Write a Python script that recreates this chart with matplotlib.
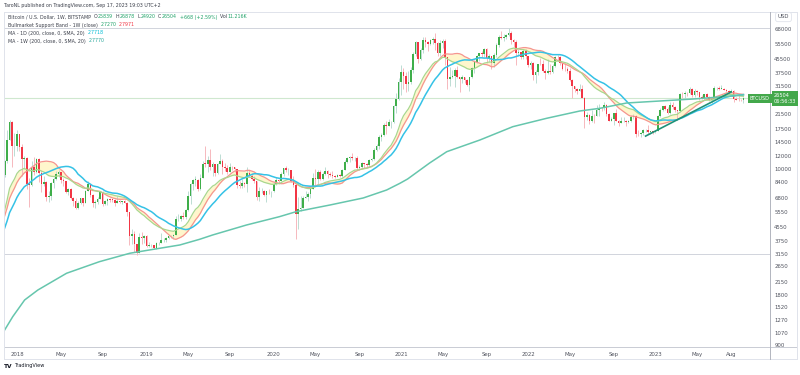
import numpy as np
import pandas as pd
import matplotlib.pyplot as plt
import matplotlib.dates as mdates
import matplotlib.transforms as mtransforms
from matplotlib.lines import Line2D

# weekly BTC/USD (Bitstamp), values in USD thousands, weeks start on Monday
# closes before the visible range, only used to warm up the moving averages (from 2017-05-01)
warmup_close = [1.57, 1.77, 2.05, 2.20, 2.52, 2.96, 2.56, 2.48, 2.52, 2.51, 1.93, 2.75, 2.75, 3.23,
                4.07, 4.09, 4.35, 4.59, 4.22, 3.69, 3.66, 4.39, 4.60, 5.70, 6.00, 6.15, 7.40, 5.88, 8.05, 9.30]

first_week = '2017-11-27'
close_2017 = [11.25, 15.0, 19.1, 13.8, 13.85]
high_2017 = [11.4, 17.2, 19.67, 19.3, 16.5]
low_2017 = [9.0, 11.0, 15.0, 10.4, 12.0]

close_2018 = [16.2, 13.6, 11.55, 11.75, 8.2, 8.1, 10.4, 9.6, 11.5, 9.55, 8.2, 8.45, 6.85, 7.0, 8.35, 8.8,
              9.4, 9.65, 8.7, 8.5, 7.35, 7.7, 6.77, 6.5, 5.9, 6.35, 6.75, 6.35, 7.4, 8.2, 7.03, 6.3, 6.4,
              6.7, 7.3, 6.2, 6.5, 6.7, 6.63, 6.6, 6.3, 6.5, 6.4, 6.48, 6.35, 5.6, 4.0, 4.15, 3.6, 3.2,
              3.95, 3.9, 4.05]
high_2018 = [17.2, 16.3, 14.1, 12.0, 11.9, 8.9, 11.2, 11.8, 11.7, 11.7, 9.9, 9.2, 8.5, 7.5, 8.4, 9.0,
             9.75, 9.95, 9.7, 8.88, 8.55, 7.8, 7.76, 6.9, 6.8, 6.5, 6.8, 6.8, 7.6, 8.5, 8.25, 7.15, 6.6,
             6.85, 7.4, 7.42, 6.6, 6.8, 6.75, 6.7, 6.7, 7.0, 6.55, 6.5, 6.6, 6.4, 5.6, 4.4, 4.3, 3.6,
             4.2, 4.25, 4.1]
low_2018 = [12.8, 12.8, 9.2, 10.0, 7.7, 6.0, 8.0, 9.3, 9.5, 8.4, 7.3, 8.0, 6.5, 6.45, 6.6, 7.8,
            8.7, 8.97, 8.35, 7.95, 7.2, 7.05, 6.65, 6.1, 5.8, 5.8, 6.2, 6.1, 6.3, 7.4, 6.9, 5.95, 5.88,
            6.25, 6.65, 6.1, 6.15, 6.15, 6.4, 6.45, 6.1, 6.3, 6.35, 6.25, 6.3, 5.3, 3.55, 3.6, 3.25, 3.12,
            3.2, 3.6, 3.65]

close_2019 = [3.5, 3.55, 3.55, 3.42, 3.65, 3.65, 3.8, 3.8, 3.93, 4.0, 4.0, 4.1, 5.05, 5.1, 5.3, 5.2,
              5.75, 6.95, 8.2, 8.7, 8.7, 7.65, 8.95, 10.85, 10.8, 11.45, 10.3, 10.75, 9.5, 10.8, 11.3,
              10.3, 10.15, 9.6, 10.4, 10.35, 10.0, 8.05, 7.95, 8.3, 8.2, 9.55, 9.2, 8.8, 8.5, 6.9, 7.4,
              7.5, 7.1, 7.5, 7.4, 7.5]
high_2019 = [4.1, 3.7, 3.62, 3.56, 3.7, 3.7, 4.2, 3.9, 3.95, 4.02, 4.08, 4.15, 5.3, 5.47, 5.35, 5.62,
             5.8, 7.4, 8.35, 8.75, 9.1, 8.8, 9.35, 11.25, 13.85, 12.0, 13.2, 11.1, 10.65, 11.0, 12.3,
             11.5, 10.95, 10.6, 10.9, 10.5, 10.3, 10.05, 8.5, 8.75, 8.45, 10.4, 9.9, 9.5, 9.1, 8.5, 7.85,
             7.75, 7.6, 7.5, 7.7, 7.5]
low_2019 = [3.45, 3.45, 3.45, 3.37, 3.35, 3.56, 3.65, 3.7, 3.7, 3.85, 3.92, 3.9, 4.1, 4.95, 4.95, 5.05,
            5.1, 5.65, 6.2, 7.55, 8.0, 7.45, 7.55, 8.95, 10.3, 9.65, 9.9, 9.1, 9.1, 9.4, 10.9,
            9.4, 9.75, 9.35, 9.6, 9.9, 9.6, 7.75, 7.75, 7.8, 7.9, 7.3, 9.0, 8.7, 8.3, 6.55, 6.5,
            7.2, 7.0, 6.45, 7.15, 6.85]

close_2020 = [8.18, 8.7, 8.6, 9.35, 10.15, 9.9, 9.95, 8.55, 8.05, 5.4, 5.85, 5.9, 6.8, 6.9, 7.15, 7.7,
              8.9, 8.75, 9.7, 8.75, 9.45, 9.75, 9.35, 9.3, 9.1, 9.08, 9.3, 9.2, 9.95, 11.1, 11.7, 11.9,
              11.65, 11.7, 10.25, 10.35, 10.9, 10.75, 10.65, 11.4, 11.5, 13.05, 13.75, 15.5, 15.95, 18.4,
              18.2, 19.15, 19.15, 23.9, 26.3, 33.0]
high_2020 = [8.45, 9.0, 8.75, 9.6, 10.2, 10.5, 10.25, 9.95, 9.2, 8.15, 6.9, 6.95, 7.0, 7.45, 7.3, 7.75,
             9.48, 10.0, 9.95, 9.9, 9.6, 10.4, 9.99, 9.6, 9.8, 9.3, 9.45, 9.35, 10.0, 11.4, 11.8, 12.1,
             12.45, 11.8, 12.05, 10.6, 11.1, 10.95, 10.95, 11.6, 11.7, 13.35, 14.1, 15.95, 16.5, 18.8,
             19.4, 19.9, 19.4, 24.2, 28.4, 34.8]
low_2020 = [7.35, 8.05, 8.25, 8.55, 9.15, 9.65, 9.3, 8.4, 7.85, 3.85, 4.45, 5.7, 5.87, 6.75, 6.5, 6.8,
            7.65, 8.1, 8.2, 8.65, 8.63, 9.3, 8.9, 9.2, 8.85, 8.95, 9.05, 9.05, 9.05, 9.9, 10.95, 11.1,
            11.4, 11.2, 9.9, 9.9, 10.2, 10.15, 10.4, 10.5, 11.2, 11.4, 12.9, 13.3, 14.8, 15.8,
            16.3, 18.2, 17.6, 19.0, 21.8, 25.9]

close_2021 = [38.2, 35.8, 32.3, 33.1, 38.9, 48.6, 57.4, 45.2, 51.2, 59.0, 57.4, 55.8, 58.8, 60.0, 56.2,
              49.0, 56.6, 58.2, 46.4, 34.7, 35.7, 35.8, 39.1, 35.5, 34.7, 35.3, 34.25, 31.8, 35.4, 39.9,
              43.8, 47.1, 49.3, 48.9, 51.8, 46.0, 47.3, 43.2, 48.2, 54.7, 61.5, 60.9, 61.3, 63.3, 65.0,
              58.6, 57.3, 49.4, 50.1, 46.7, 50.8, 47.3]
high_2021 = [42.0, 40.0, 37.8, 38.5, 40.9, 49.7, 58.3, 57.5, 52.6, 61.7, 61.0, 58.4, 60.1, 61.0, 64.9,
             57.5, 58.5, 59.6, 59.5, 46.5, 40.9, 39.3, 40.0, 41.3, 35.7, 36.6, 35.0, 34.6, 35.5, 40.9,
             44.7, 48.1, 49.4, 50.5, 52.9, 52.9, 48.8, 47.4, 49.2, 56.5, 62.9, 67.0, 63.7, 64.3, 69.0,
             66.3, 59.3, 59.1, 51.9, 50.0, 51.9, 52.1]
low_2021 = [27.8, 30.3, 28.8, 29.3, 32.3, 37.3, 47.0, 43.0, 44.9, 49.3, 53.3, 50.4, 54.8, 55.5, 51.5,
            47.0, 47.5, 53.0, 42.1, 30.0, 31.2, 34.8, 31.0, 34.8, 28.8, 32.7, 32.7, 31.2, 29.3, 35.2,
            37.4, 42.8, 43.9, 46.5, 46.8, 42.9, 43.4, 39.6, 40.8, 46.9, 53.8, 59.8, 57.9, 59.4, 62.3,
            55.6, 53.3, 42.0, 47.1, 45.5, 45.6, 45.7]

close_2022 = [41.9, 43.1, 36.3, 37.9, 42.4, 42.2, 38.4, 37.7, 38.4, 37.8, 41.3, 46.8, 46.4, 42.8, 39.7,
              39.45, 38.5, 34.1, 31.3, 30.3, 29.45, 29.9, 26.6, 20.55, 21.05, 19.3, 20.85, 20.8, 22.6,
              23.3, 23.2, 24.3, 21.5, 19.55, 19.95, 21.8, 19.4, 18.8, 19.3, 19.45, 19.05, 19.55, 20.65,
              20.9, 16.3, 16.25, 16.45, 17.1, 17.1, 16.75, 16.85, 16.6]
high_2022 = [47.6, 44.4, 43.5, 38.9, 42.6, 45.8, 44.7, 39.5, 45.4, 42.5, 42.4, 47.0, 48.2, 47.5, 42.4,
             42.9, 40.8, 40.0, 34.3, 31.4, 30.6, 32.2, 31.7, 26.9, 21.9, 21.5, 22.5, 21.5, 24.2,
             24.6, 23.6, 25.2, 24.5, 21.8, 20.6, 21.8, 22.8, 19.7, 20.4, 20.5, 19.7, 19.7, 21.0,
             21.5, 21.0, 17.2, 16.8, 17.4, 17.4, 18.4, 16.95, 16.95]
low_2022 = [40.6, 39.7, 34.0, 32.9, 36.3, 41.7, 38.0, 34.3, 37.2, 37.2, 37.6, 40.5, 44.2, 42.0, 39.2,
            38.6, 37.7, 33.7, 26.7, 28.7, 28.0, 29.3, 26.6, 17.6, 19.7, 18.7, 19.1, 18.9, 20.8,
            20.7, 22.4, 22.7, 20.8, 19.5, 19.55, 18.5, 19.3, 18.1, 18.8, 19.1, 18.2, 18.9, 19.2,
            20.0, 15.6, 15.8, 15.5, 16.0, 16.7, 16.3, 16.3, 16.35]

close_2023 = [16.95, 20.9, 22.7, 23.75, 22.95, 21.8, 24.3, 23.55, 22.45, 22.15, 28.0, 27.95, 28.45,
              28.35, 30.3, 27.6, 29.25, 28.9, 26.9, 26.75, 28.05, 27.1, 25.85, 26.35, 30.5, 30.6, 30.15,
              30.25, 29.8, 29.3, 29.05, 29.3, 26.1, 26.0, 25.85, 25.839, 26.504]
high_2023 = [17.2, 21.2, 23.3, 23.8, 24.3, 23.4, 25.2, 25.1, 23.9, 22.6, 28.4, 29.0, 29.1,
             28.8, 31.0, 30.5, 30.0, 29.8, 29.0, 27.6, 28.3, 28.4, 27.4, 26.8, 31.4, 31.0, 31.4,
             31.8, 30.4, 29.9, 29.8, 30.2, 29.7, 26.8, 28.1, 26.1, 26.878]
low_2023 = [16.5, 17.1, 20.4, 22.3, 22.6, 21.4, 21.4, 22.8, 21.95, 19.6, 21.9, 26.6, 26.5,
            27.2, 28.2, 27.1, 26.95, 27.7, 25.8, 26.4, 25.9, 26.6, 25.4, 24.8, 26.3, 29.5, 29.7,
            29.95, 29.6, 28.9, 28.6, 28.7, 25.2, 25.8, 25.4, 25.4, 24.92]

# 200-week moving average (USD)
ma200w_dates = ['2017-11-24', '2017-12-20', '2018-01-23', '2018-03-02', '2018-05-23', '2018-08-25',
                '2018-11-20', '2019-01-15', '2019-04-12', '2019-06-08', '2019-07-15', '2019-10-20',
                '2020-01-22', '2020-03-10', '2020-06-15', '2020-09-18', '2020-11-24', '2021-01-01',
                '2021-01-23', '2021-03-27', '2021-05-15', '2021-08-18', '2021-11-20', '2022-02-25',
                '2022-05-31', '2022-07-27', '2022-10-12', '2023-04-20', '2023-08-12', '2023-09-11']
ma200w_values = [1086, 1333, 1675, 1921, 2415, 2830, 3176, 3322, 3557, 3846, 4079, 4677, 5240, 5613,
                 6151, 6770, 7553, 8278, 8780, 10930, 12760, 14980, 17970, 20160, 22280, 23110, 24860,
                 26250, 27350, 27770]

# user drawings
trend_dates = ['2022-12-05', '2023-08-07']
trend_prices = [15800, 28900]
level_prices = [69000, 3150]

price_ticks = [68000, 55500, 45500, 37500, 31500, 21500, 17500, 14500, 12000, 10000, 8400, 6800, 5550,
               4550, 3750, 3150, 2650, 2150, 1800, 1520, 1270, 1070, 900]
time_tick_dates = ['2018-01-01', '2018-05-07', '2018-09-03', '2019-01-07', '2019-05-06', '2019-09-02',
                   '2020-01-06', '2020-05-04', '2020-09-07', '2021-01-04', '2021-05-03', '2021-09-06',
                   '2022-01-03', '2022-05-02', '2022-09-05', '2023-01-02', '2023-05-01', '2023-08-07']
time_tick_labels = ['2018', 'May', 'Sep', '2019', 'May', 'Sep', '2020', 'May', 'Sep', '2021', 'May', 'Sep',
                    '2022', 'May', 'Sep', '2023', 'May', 'Aug']

# ---- assemble series
close = np.array(close_2017 + close_2018 + close_2019 + close_2020 + close_2021 + close_2022 + close_2023) * 1000
high = np.array(high_2017 + high_2018 + high_2019 + high_2020 + high_2021 + high_2022 + high_2023) * 1000
low = np.array(low_2017 + low_2018 + low_2019 + low_2020 + low_2021 + low_2022 + low_2023) * 1000
n = len(close)
openp = np.concatenate([[warmup_close[-1] * 1000], close[:-1]])
high = np.maximum(high, np.maximum(openp, close))
low = np.minimum(low, np.minimum(openp, close))

dates = pd.date_range(first_week, periods=n, freq='7D')
all_dates = pd.date_range(end=dates[-1], periods=n + len(warmup_close), freq='7D')
all_close = pd.Series(np.concatenate([np.array(warmup_close) * 1000, close]), index=all_dates)
sma20 = all_close.rolling(20).mean()
ema21 = all_close.ewm(span=21, adjust=False).mean()
ma200d = all_close.rolling(28).mean()

W, H = 800, 375
def fx(x):
    return x / W
def fy(y):
    return 1 - y / H

fig = plt.figure(figsize=(8, 3.75), dpi=100)
fig.patch.set_facecolor('white')
ax = fig.add_axes([fx(4), fy(347), 766 / W, 335 / H])
ax.set_yscale('log')

up_col, down_col = '#3fae4a', '#f23645'
up_wick, down_wick = '#bcdcd3', '#f6b8bd'
x = mdates.date2num(dates)
rising = close >= openp
ax.vlines(x, low, high, colors=np.where(rising, up_wick, down_wick), lw=0.7, zorder=2)
body = np.maximum(np.abs(close - openp), close * 0.006)
ax.bar(x, body, bottom=np.minimum(openp, close), width=4.6,
       color=np.where(rising, up_col, down_col), lw=0, zorder=3)

xa = mdates.date2num(all_dates)
ax.fill_between(xa, sma20, ema21, color='#fff5c4', alpha=0.85, lw=0, zorder=1)
ax.plot(xa, sma20, color='#f5958f', lw=0.9, zorder=4)
ax.plot(xa, ema21, color='#a9d78e', lw=0.9, zorder=4)
ax.plot(xa, ma200d, color='#35c2e6', lw=1.1, zorder=4)
ax.plot(mdates.date2num(pd.to_datetime(ma200w_dates)), ma200w_values, color='#66c6ad', lw=1.1, zorder=4)

ax.plot(mdates.date2num(pd.to_datetime(trend_dates)), trend_prices, color='#1f9178', lw=1.2, zorder=5)
for lv in level_prices:
    ax.axhline(lv, color='#d1d4dc', lw=0.7, zorder=0)
ax.axhline(close[-1], color='#cfe8cf', lw=0.8, zorder=0)

ax.set_ylim(880, 86400)
ax.set_xlim(mdates.datestr2num('2017-11-25'), mdates.datestr2num('2023-11-26'))

ax.yaxis.tick_right()
ax.yaxis.set_minor_locator(plt.NullLocator())
ax.set_yticks(price_ticks)
ax.set_yticklabels([str(p) for p in price_ticks])
ax.set_xticks(mdates.date2num(pd.to_datetime(time_tick_dates)))
ax.set_xticklabels(time_tick_labels)
ax.tick_params(axis='y', length=0, pad=3, labelsize=3.9, labelcolor='#50535e')
ax.tick_params(axis='x', length=0, pad=3.5, labelsize=3.9, labelcolor='#50535e')
for s in ax.spines.values():
    s.set_visible(False)

# frame of the chart panel
frame = '#e0e3eb'
for (x1, y1, x2, y2, c) in [(4, 12, 797, 12, frame), (4, 347, 797, 347, '#c9ccd4'), (4, 359, 797, 359, frame),
                            (4, 12, 4, 359, frame), (797, 12, 797, 359, frame), (770, 12, 770, 359, '#b2b5be')]:
    fig.add_artist(Line2D([fx(x1), fx(x2)], [fy(y1), fy(y2)], transform=fig.transFigure, color=c, lw=0.7))

# last price labels
tr = mtransforms.blended_transform_factory(fig.transFigure, ax.transData)
fig.text(fx(774), close[-1], '26504\n06:56:33', transform=tr, fontsize=3.6, color='white', va='center',
         ha='left', linespacing=1.3, bbox=dict(boxstyle='square,pad=0.35', fc='#43a84b', ec='none'))
fig.text(fx(750), close[-1], 'BTCUSD', transform=tr, fontsize=3.5, color='white', va='center', ha='left',
         bbox=dict(boxstyle='square,pad=0.35', fc='#43a84b', ec='none'))
fig.text(fx(783.5), fy(17), 'USD', fontsize=3.9, color='#50535e', va='center', ha='center',
         bbox=dict(boxstyle='round,pad=0.4', fc='white', ec='#e0e3eb', lw=0.6))

# header and legend
txt_col = '#3b3f4a'
fig.text(fx(4), fy(5), 'TaroNL published on TradingView.com, Sep 17, 2023 19:03 UTC+2',
         fontsize=3.4, color=txt_col, va='center', ha='left')

green, red, cyan, teal = '#22a36a', '#f23645', '#00bcd4', '#26a69a'
renderer = fig.canvas.get_renderer()

def legend_line(y, parts, size=3.45):
    xpos = 8
    for t, c in parts:
        piece = fig.text(fx(xpos), fy(y), t, color=c, fontsize=size, va='center', ha='left')
        xpos = piece.get_window_extent(renderer).x1

legend_line(17, [('Bitcoin / U.S. Dollar, 1W, BITSTAMP', txt_col), ('  O', txt_col), ('25839', green),
                 ('  H', txt_col), ('26878', green), ('  L', txt_col), ('24920', green), ('  C', txt_col),
                 ('26504', green), ('  +668 (+2.59%)', green), ('  Vol', txt_col), ('11.216K', green)])
legend_line(25, [('Bullmarket Support Band - 1W (close)', txt_col), ('  27270', green), ('  27971', red)])
legend_line(33, [('MA - 1D (200, close, 0, SMA, 20)', txt_col), ('  27718', cyan)])
legend_line(41, [('MA - 1W (200, close, 0, SMA, 20)', txt_col), ('  27770', teal)])

fig.text(fx(4), fy(366), 'TV', fontsize=4.2, fontweight='bold', color='#131722', va='center', ha='left')
fig.text(fx(14), fy(366), 'TradingView', fontsize=3.6, color='#131722', va='center', ha='left')

fig.savefig('out.png', dpi=100, facecolor='white')
